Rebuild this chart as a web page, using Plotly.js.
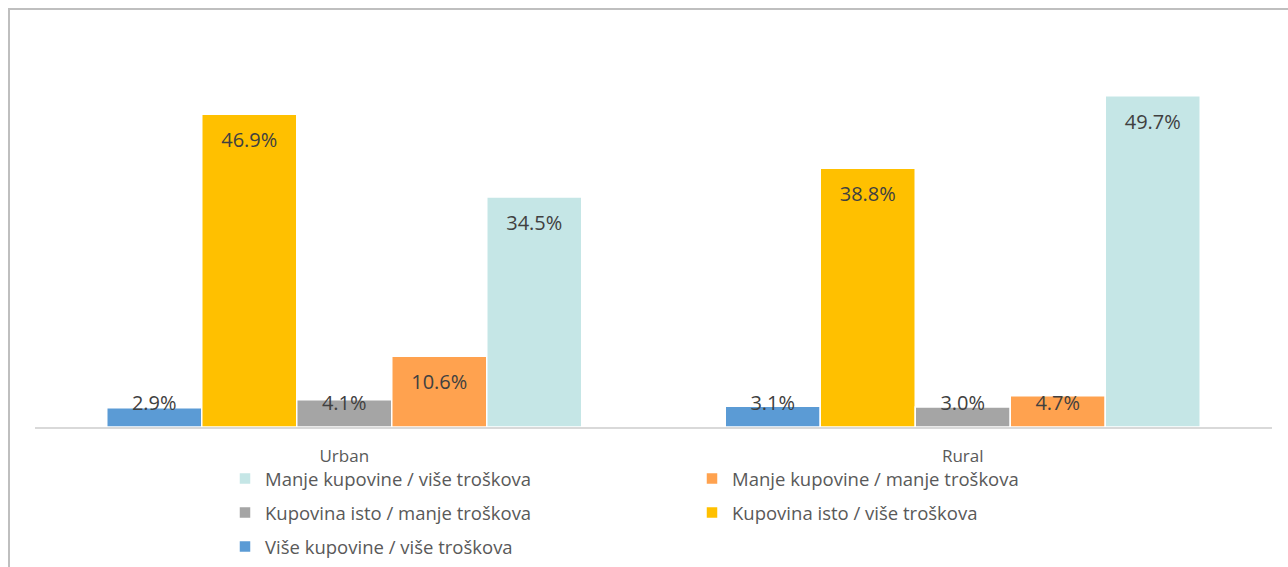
<!DOCTYPE html>
<html>
<head>
<meta charset="utf-8">
<script src="https://cdn.plot.ly/plotly-3.0.1.min.js"></script>
<style>
  html, body { margin: 0; padding: 0; background: #fff; overflow: hidden; }
  #wrap { position: relative; width: 1288px; height: 567px; overflow: hidden; }
  #chart { width: 1288px; height: 567px; }
  #frame { position: absolute; left: 8px; top: 8px; width: 2000px; height: 2000px;
           border-top: 2px solid #bfbfbf; border-left: 2px solid #bfbfbf; pointer-events: none; }
</style>
</head>
<body>
<div id="wrap">
  <div id="chart"></div>
  <div id="frame"></div>
</div>
<script>
const categories = ['Urban', 'Rural'];

const seriesNames = [
  'Više kupovine / više troškova',
  'Kupovina isto / više troškova',
  'Kupovina isto / manje troškova',
  'Manje kupovine / manje troškova',
  'Manje kupovine / više troškova'
];

const viseKupovineViseTroskova = [2.9, 3.1];
const kupovinaIstoViseTroskova = [46.9, 38.8];
const kupovinaIstoManjeTroskova = [4.1, 3.0];
const manjeKupovineManjeTroskova = [10.6, 4.7];
const manjeKupovineViseTroskova = [34.5, 49.7];

const seriesValues = [
  viseKupovineViseTroskova,
  kupovinaIstoViseTroskova,
  kupovinaIstoManjeTroskova,
  manjeKupovineManjeTroskova,
  manjeKupovineViseTroskova
];

const colors = ['#5B9BD5', '#FFC000', '#A5A5A5', '#FFA24F', '#C5E6E6'];
const legendIds = ['legend3', 'legend2', 'legend2', 'legend', 'legend'];

const labelFont = { family: 'Open Sans, sans-serif', size: 20, color: '#404040' };

const barTraces = seriesValues.map((vals, i) => ({
  type: 'bar',
  name: seriesNames[i],
  x: categories,
  y: vals,
  marker: { color: colors[i], line: { color: '#ffffff', width: 1.5 } },
  legend: legendIds[i],
  hoverinfo: 'x+y+name'
}));

// "inside end" data labels; labels that do not fit in a short bar sit at the bar base (as in Excel)
const fitsInside = v => v >= 7.5;
const labelTraces = seriesValues.map((vals, i) => ({
  type: 'scatter',
  mode: 'markers+text',
  x: categories,
  y: vals.map(v => fitsInside(v) ? v : 0),
  text: vals.map(v => v.toFixed(1) + '%'),
  textposition: vals.map(v => fitsInside(v) ? 'bottom center' : 'top center'),
  textfont: labelFont,
  marker: { size: vals.map(v => fitsInside(v) ? 27 : 17.6), opacity: 0, color: colors[i] },
  cliponaxis: false,
  showlegend: false,
  hoverinfo: 'skip'
}));

const legendBase = {
  orientation: 'h',
  xref: 'container',
  yref: 'container',
  x: 225 / 1288,
  xanchor: 'left',
  yanchor: 'middle',
  traceorder: 'reversed',
  entrywidth: 422,
  entrywidthmode: 'pixels',
  itemwidth: 30,
  bgcolor: 'rgba(0,0,0,0)',
  font: { family: 'Open Sans, sans-serif', size: 18.5, color: '#595959' }
};

const layout = {
  width: 1288,
  height: 567,
  margin: { l: 35, r: 16, t: 27, b: 140 },
  paper_bgcolor: '#ffffff',
  plot_bgcolor: '#ffffff',
  barmode: 'group',
  bargap: 0.232,
  bargroupgap: 0,
  scattermode: 'group',
  scattergap: 0.232,
  showlegend: true,
  xaxis: {
    type: 'category',
    showline: true,
    linecolor: '#d9d9d9',
    linewidth: 1.5,
    ticks: '',
    showgrid: false,
    zeroline: false,
    tickfont: { family: 'Open Sans, sans-serif', size: 17, color: '#595959' },
    ticklabelstandoff: 13
  },
  yaxis: {
    range: [0, 60],
    visible: false,
    showgrid: false,
    zeroline: false
  },
  legend: Object.assign({}, legendBase, { y: 1 - 479 / 567 }),
  legend2: Object.assign({}, legendBase, { y: 1 - 513 / 567 }),
  legend3: Object.assign({}, legendBase, { y: 1 - 547 / 567 })
};

Plotly.newPlot('chart', barTraces.concat(labelTraces), layout, { displayModeBar: false, staticPlot: true });
</script>
</body>
</html>
